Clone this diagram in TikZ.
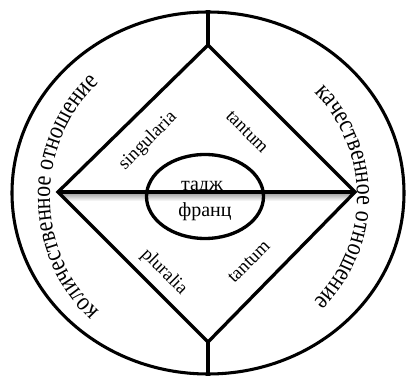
\documentclass[tikz,border=0pt]{standalone}
\usepackage{fontspec}
\setmainfont{Liberation Serif}
\newfontfamily\arcfont[FakeStretch=0.84]{Liberation Serif}
\usetikzlibrary{shapes.geometric,decorations.text}
\begin{document}
\begin{tikzpicture}[x=0.75pt,y=0.75pt,line width=2.5pt,
  lbl/.style={font=\fontsize{14}{16}\selectfont,inner sep=0pt},
  ctr/.style={font=\fontsize{15}{17}\selectfont,inner sep=0pt},
  stem/.style={line width=3pt}]
\useasboundingbox (0,0) rectangle (407,375);
% outer ellipse
\node[draw,ellipse,line width=2.3pt,minimum width=294pt,minimum height=271.5pt,inner sep=0pt] (outer) at (208,182) {};
% diamond vertices
\coordinate (T) at (208,330);
\coordinate (B) at (208,33);
\coordinate (L) at (58,183);
\coordinate (R) at (355,183);
% shadow under the horizontal line
\begin{scope}
  \clip (L) -- (R) -- (B) -- cycle;
  \shade[top color=gray!75,bottom color=white,draw=none] (58,174) rectangle (355,182);
\end{scope}
\draw[line join=miter] (T) -- (R) -- (B) -- (L) -- cycle;
\draw (L) -- (R);
\draw[stem] (outer.north) -- (T);
\draw[stem] (B) -- (outer.south);
% inner ellipse
\node[draw,ellipse,minimum width=87.75pt,minimum height=63pt,inner sep=0pt] (inner) at (205,178.5) {};
\node[ctr,anchor=base] (tadzh) at (202,184) {тадж};
\node[ctr,anchor=base] (franc) at (205,158.5) {франц};
% diagonal labels
\node[lbl,rotate=45] (sing) at (148,234) {singularia};
\node[lbl,rotate=-45] (tant1) at (247,243) {tantum};
\node[lbl,rotate=-45] (plur) at (164,103) {pluralia};
\node[lbl,rotate=45] (tant2) at (249,113) {tantum};
% curved texts
\coordinate (C) at (208,178);
\path[decorate,decoration={text along path,text align=center,
  text={|\arcfont\fontsize{19.5}{23}\selectfont|количественное отношение}}]
  (C) ++(250:118.5pt) arc[start angle=250,end angle=110,radius=118.5pt];
\path[decorate,decoration={text along path,text align=center,
  text={|\arcfont\fontsize{19.5}{23}\selectfont|качественное отношение}}]
  (C) ++(70:111.75pt) arc[start angle=70,end angle=-70,radius=111.75pt];
\end{tikzpicture}
\end{document}
